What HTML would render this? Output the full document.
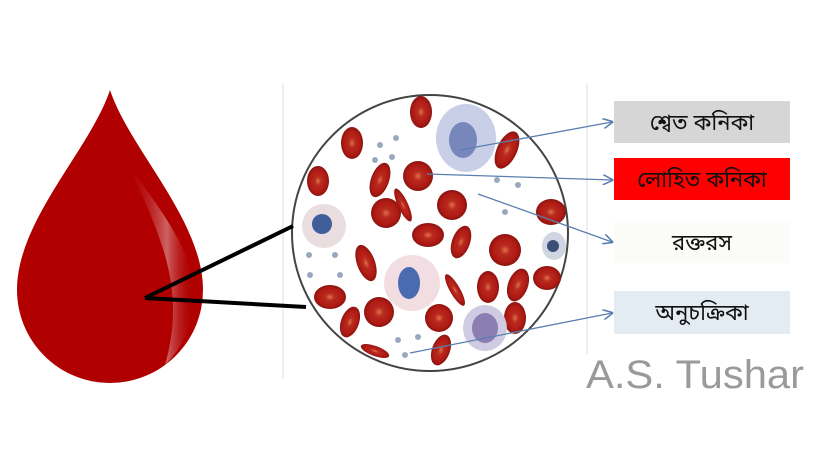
<!DOCTYPE html>
<html><head><meta charset="utf-8">
<style>
html,body{margin:0;padding:0;background:#fff;}
svg{display:block}
.lbl{font-family:"Liberation Sans","Noto Sans Bengali",sans-serif;font-size:22px;fill:#111;}
</style></head>
<body>
<svg width="820" height="461" viewBox="0 0 820 461">
<defs>
<radialGradient id="rbc" cx="50%" cy="50%" r="50%">
<stop offset="0" stop-color="#e0704a"/><stop offset="0.3" stop-color="#b82a1e"/><stop offset="0.75" stop-color="#b01a14"/><stop offset="1" stop-color="#8a1410"/>
</radialGradient>
<linearGradient id="shine" x1="0" y1="0" x2="1" y2="0">
<stop offset="0" stop-color="#b00000" stop-opacity="0"/><stop offset="0.6" stop-color="#fff" stop-opacity="0.55"/><stop offset="1" stop-color="#b00000" stop-opacity="0"/>
</linearGradient>
<marker id="ah" markerWidth="8" markerHeight="8" refX="7" refY="4" orient="auto"><path d="M0,0 L8,4 L0,8" fill="none" stroke="#5a7fb0" stroke-width="1.2"/></marker>
</defs>

<rect x="282" y="84" width="2" height="295" fill="#eee"/>
<rect x="586" y="84" width="2" height="270" fill="#eee"/>

<g>
<path d="M110,90 C130,150 203,220 203,290 A93 93 0 0 1 17,290 C17,220 90,150 110,90 Z" fill="#b00000"/>
<path d="M125,160 C160,210 195,250 195,300 C192,330 180,350 165,365 C175,330 178,290 160,240 C150,210 135,180 125,160 Z" fill="url(#shine)" opacity="0.7"/>
</g>

<g>
<circle cx="430" cy="233" r="138" fill="#fff" stroke="#444" stroke-width="2"/>
<g>
<ellipse cx="421" cy="112" rx="11" ry="16" fill="url(#rbc)"/>
<ellipse cx="352" cy="143" rx="11" ry="16" fill="url(#rbc)"/>
<ellipse cx="318" cy="181" rx="11" ry="15" fill="url(#rbc)"/>
<ellipse cx="380" cy="180" rx="9" ry="18" fill="url(#rbc)" transform="rotate(20 380 180)"/>
<circle cx="418" cy="176" r="15" fill="url(#rbc)"/>
<ellipse cx="507" cy="150" rx="10" ry="20" fill="url(#rbc)" transform="rotate(25 507 150)"/>
<circle cx="386" cy="213" r="15" fill="url(#rbc)"/>
<ellipse cx="403" cy="205" rx="5" ry="18" fill="url(#rbc)" transform="rotate(-25 403 205)"/>
<circle cx="452" cy="205" r="15" fill="url(#rbc)"/>
<ellipse cx="551" cy="212" rx="15" ry="13" fill="url(#rbc)"/>
<ellipse cx="428" cy="235" rx="16" ry="12" fill="url(#rbc)"/>
<ellipse cx="461" cy="242" rx="9" ry="17" fill="url(#rbc)" transform="rotate(20 461 242)"/>
<circle cx="505" cy="250" r="16" fill="url(#rbc)"/>
<ellipse cx="366" cy="263" rx="9" ry="19" fill="url(#rbc)" transform="rotate(-20 366 263)"/>
<ellipse cx="455" cy="290" rx="5" ry="18" fill="url(#rbc)" transform="rotate(-30 455 290)"/>
<ellipse cx="488" cy="287" rx="11" ry="16" fill="url(#rbc)"/>
<ellipse cx="518" cy="285" rx="10" ry="17" fill="url(#rbc)" transform="rotate(20 518 285)"/>
<ellipse cx="547" cy="278" rx="14" ry="12" fill="url(#rbc)"/>
<ellipse cx="330" cy="297" rx="16" ry="12" fill="url(#rbc)"/>
<circle cx="379" cy="312" r="15" fill="url(#rbc)"/>
<ellipse cx="350" cy="322" rx="9" ry="16" fill="url(#rbc)" transform="rotate(20 350 322)"/>
<circle cx="439" cy="318" r="14" fill="url(#rbc)"/>
<ellipse cx="515" cy="318" rx="11" ry="16" fill="url(#rbc)"/>
<ellipse cx="375" cy="351" rx="5" ry="15" fill="url(#rbc)" transform="rotate(-70 375 351)"/>
<ellipse cx="441" cy="350" rx="9" ry="16" fill="url(#rbc)" transform="rotate(20 441 350)"/>
</g>
<g>
<ellipse cx="466" cy="138" rx="30" ry="34" fill="#c9cfe6"/>
<ellipse cx="463" cy="140" rx="14" ry="18" fill="#5668a8" opacity="0.7"/>
<circle cx="324" cy="226" r="22" fill="#eadde0"/>
<circle cx="322" cy="224" r="10" fill="#3f5e9a"/>
<circle cx="412" cy="283" r="28" fill="#f2dde2"/>
<ellipse cx="409" cy="283" rx="11" ry="16" fill="#4a6bb0"/>
<ellipse cx="554" cy="246" rx="12" ry="14" fill="#cfd6e2"/>
<circle cx="553" cy="246" r="6" fill="#3c4f78"/>
<ellipse cx="485" cy="328" rx="22" ry="23" fill="#cfcbe3"/>
<ellipse cx="485" cy="328" rx="13" ry="15" fill="#6d5c9e" opacity="0.7"/>
</g>
<g fill="#9aa8bf">
<circle cx="380" cy="145" r="3"/><circle cx="396" cy="138" r="3"/><circle cx="392" cy="157" r="3"/><circle cx="375" cy="160" r="3"/>
<circle cx="497" cy="180" r="3"/><circle cx="518" cy="185" r="3"/><circle cx="505" cy="212" r="3"/>
<circle cx="309" cy="255" r="3"/><circle cx="335" cy="255" r="3"/><circle cx="310" cy="275" r="3"/><circle cx="340" cy="275" r="3"/>
<circle cx="398" cy="340" r="3"/><circle cx="418" cy="337" r="3"/><circle cx="405" cy="355" r="3"/>
</g>
</g>

<g>
<line x1="145" y1="298" x2="293" y2="226" stroke="#000" stroke-width="4"/>
<line x1="145" y1="298" x2="306" y2="307" stroke="#000" stroke-width="4"/>
</g>

<g stroke="#5a7fb0" stroke-width="1.3" fill="none">
<line x1="460" y1="150" x2="612" y2="122" marker-end="url(#ah)"/>
<line x1="427" y1="174" x2="612" y2="180" marker-end="url(#ah)"/>
<line x1="478" y1="194" x2="612" y2="242" marker-end="url(#ah)"/>
<line x1="410" y1="353" x2="612" y2="313" marker-end="url(#ah)"/>
</g>

<g>
<rect x="614" y="101" width="176" height="42" fill="#d6d6d6"/>
<text class="lbl" x="702" y="130" text-anchor="middle">শ্বেত কনিকা</text>
</g>
<g>
<rect x="614" y="158" width="176" height="42" fill="#ff0000"/>
<text class="lbl" x="702" y="187" text-anchor="middle">লোহিত কনিকা</text>
</g>
<g>
<rect x="614" y="221" width="176" height="42" fill="#fbfbf8"/>
<text class="lbl" x="702" y="250" text-anchor="middle">রক্তরস</text>
</g>
<g>
<rect x="614" y="291" width="176" height="43" fill="#e3ebf3"/>
<text class="lbl" x="702" y="320" text-anchor="middle">অনুচক্রিকা</text>
</g>

<text x="586" y="388" font-family="Liberation Sans, sans-serif" font-size="40" fill="#9a9a9a" textLength="218" lengthAdjust="spacingAndGlyphs">A.S. Tushar</text>
</svg>
</body></html>
